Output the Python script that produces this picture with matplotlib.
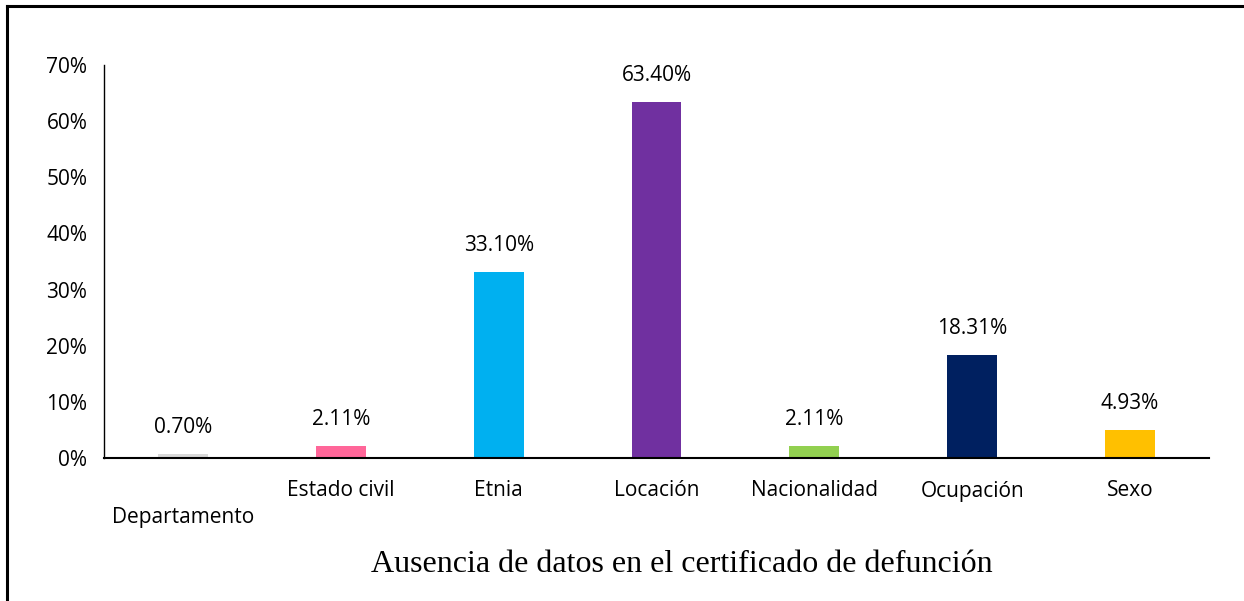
import matplotlib
matplotlib.use("Agg")
import matplotlib.pyplot as plt
from matplotlib.lines import Line2D
from matplotlib.ticker import FuncFormatter, MultipleLocator

categories = ["Departamento", "Estado civil", "Etnia", "Locación",
              "Nacionalidad", "Ocupación", "Sexo"]
values = [0.70, 2.11, 33.10, 63.40, 2.11, 18.31, 4.93]
colors = ["#D9D9D9", "#FF6699", "#00B0F0", "#7030A0",
          "#92D050", "#002060", "#FFC000"]
xlabel = "Ausencia de datos en el certificado de defunción"

fig = plt.figure(figsize=(12.44, 6.01), dpi=100)
ax = fig.add_axes([104/1244, 1-458/601, (1209-104)/1244, (458-65)/601])

x = list(range(len(categories)))
ax.bar(x, values, width=0.316, color=colors)
ax.set_xlim(-0.5, len(categories) - 0.5)
ax.set_ylim(0, 70)
ax.yaxis.set_major_locator(MultipleLocator(10))
ax.yaxis.set_major_formatter(FuncFormatter(lambda v, p: f"{v:.0f}%"))

for xi, v in zip(x, values):
    ax.annotate(f"{v:.2f}%", (xi, v), xytext=(0, 19), textcoords="offset points",
                ha="center", va="center", fontsize=15, family="Open Sans",
                color="#000000")

ax.set_xticks(x)
ax.set_xticklabels([])
for xi, lab in zip(x, categories):
    dy = 60 if lab == "Departamento" else 33
    ax.annotate(lab, (xi, 0), xytext=(0, -dy * 0.72), textcoords="offset points",
                ha="center", va="center", fontsize=15, family="Open Sans",
                annotation_clip=False)

ax.tick_params(axis="both", length=0)
ax.tick_params(axis="y", labelsize=15, pad=12)
for lab in ax.get_yticklabels():
    lab.set_family("Open Sans")

for s in ["top", "right"]:
    ax.spines[s].set_visible(False)
ax.spines["left"].set_linewidth(1.0)
ax.spines["bottom"].set_linewidth(1.5)

fig.text(682/1244, 1-572/601, xlabel, ha="center", va="baseline",
         fontsize=23, family="Liberation Serif")

# outer frame (top and left edges visible)
fig.add_artist(Line2D([6.5/1244, 1.0], [1-5.5/601, 1-5.5/601], transform=fig.transFigure,
                      color="black", linewidth=2.2))
fig.add_artist(Line2D([6.5/1244, 6.5/1244], [0.0, 1-5.5/601], transform=fig.transFigure,
                      color="black", linewidth=2.2))

fig.savefig("out.png", dpi=100, facecolor="white")
